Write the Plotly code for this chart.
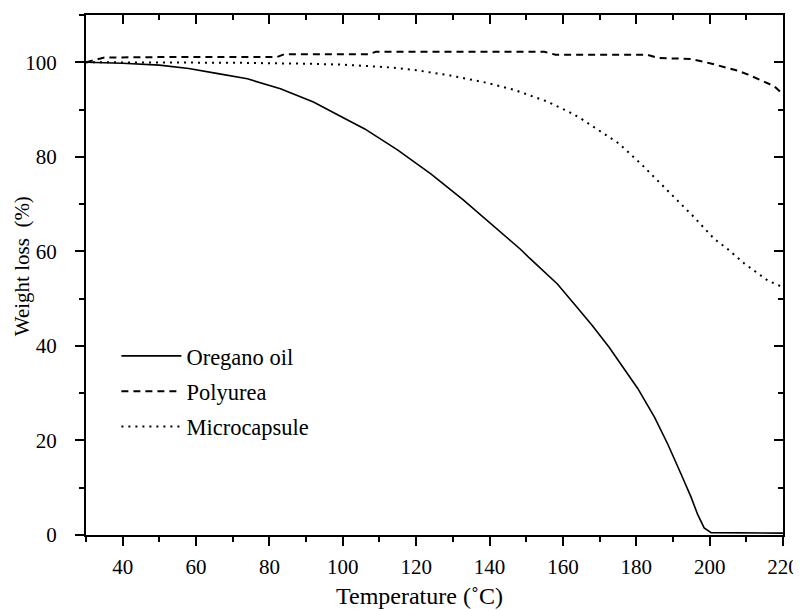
import plotly.graph_objects as go

# Oregano oil (solid)
temp_oil = [30, 40, 50, 58, 66, 74, 83, 92, 100, 106, 115, 124, 133, 142, 148.5, 151,
            158.5, 163.5, 168, 172.6, 176, 180.4, 185, 188.6, 192.2, 195, 196.7, 198.5,
            200.4, 210, 220]
w_oil = [100, 99.8, 99.4, 98.7, 97.6, 96.5, 94.4, 91.6, 88.3, 85.9, 81.4, 76.4, 70.8,
         64.8, 60.4, 58.5, 53.1, 48.5, 44.3, 39.7, 36.0, 31.0, 24.9, 19.2, 12.9, 7.9,
         4.4, 1.5, 0.5, 0.4, 0.4]

# Polyurea (dashed)
temp_pu = [30, 35, 50, 82, 84, 107, 109, 155, 158, 183, 186, 195, 200.6, 204, 207.7,
           210.5, 213.1, 215.5, 217.7, 220]
w_pu = [100.0, 101.0, 101.1, 101.1, 101.7, 101.7, 102.2, 102.2, 101.6, 101.6, 100.9,
        100.7, 99.7, 99.0, 98.2, 97.4, 96.5, 95.8, 94.9, 93.2]

# Microcapsule (dotted)
temp_mc = [30, 50, 70, 90, 100, 106.6, 113, 120.2, 129.3, 138.4, 146.6, 155.7, 161.7,
           164.9, 168.5, 175.3, 181.3, 185.8, 191.3, 195.8, 201.3, 204.9, 209.5, 215.9, 220]
w_mc = [100.0, 100.0, 99.9, 99.7, 99.5, 99.2, 98.9, 98.3, 97.2, 95.8, 94.2, 91.7, 89.5,
        88.1, 86.3, 82.8, 78.5, 75.0, 70.8, 67.2, 62.6, 60.5, 57.4, 53.8, 52.4]

series_names = ["Oregano oil", "Polyurea", "Microcapsule"]
x_ticks = [40, 60, 80, 100, 120, 140, 160, 180, 200, 220]
y_ticks = [0, 20, 40, 60, 80, 100]
x_title = "Temperature (˚C)"
y_title = "Weight loss\u00a0 (%)"

FONT = "Liberation Serif"

fig = go.Figure()
fig.add_trace(go.Scatter(x=temp_oil, y=w_oil, mode="lines", name=series_names[0],
                         legendgroup="a", line=dict(color="black", width=1.6)))
fig.add_trace(go.Scatter(x=temp_pu, y=w_pu, mode="lines", name=series_names[1],
                         legendgroup="b", line=dict(color="black", width=2, dash="7px,5px")))
fig.add_trace(go.Scatter(x=temp_mc, y=w_mc, mode="lines", name=series_names[2],
                         legendgroup="c", line=dict(color="black", width=2, dash="2px,5px")))
# invisible copy so the mirrored top/right axes get drawn
fig.add_trace(go.Scatter(x=temp_oil, y=w_oil, mode="lines", xaxis="x2", yaxis="y2",
                         showlegend=False, hoverinfo="skip", opacity=0,
                         line=dict(color="rgba(0,0,0,0)", width=0)))

axis_common = dict(showgrid=False, zeroline=False, showline=True, linecolor="black",
                   linewidth=2, tickcolor="black", tickwidth=2, ticklen=9,
                   automargin=False)

# page body has an 8px margin: compensate so the plot area sits at x 86..783, y 15..535
fig.update_layout(
    width=793, height=603,
    margin=dict(l=78, r=18, t=7, b=76, autoexpand=False),
    paper_bgcolor="white", plot_bgcolor="white",
    font=dict(family=FONT, size=21, color="black"),
    showlegend=True,
    legend=dict(x=0.0436, y=0.385, xanchor="left", yanchor="top",
                bgcolor="rgba(0,0,0,0)", font=dict(family=FONT, size=22.5),
                itemwidth=60, tracegroupgap=3),
    xaxis=dict(range=[30, 220], tickvals=x_ticks, ticks="outside",
               tickfont=dict(family=FONT, size=21), ticklabelstandoff=3,
               minor=dict(dtick=10, tick0=30, ticks="outside", ticklen=5,
                          tickcolor="black", tickwidth=2),
               **axis_common),
    yaxis=dict(range=[0, 110], tickvals=y_ticks, ticks="outside",
               tickfont=dict(family=FONT, size=21), ticklabelstandoff=14,
               minor=dict(dtick=10, tick0=0, ticks="outside", ticklen=5,
                          tickcolor="black", tickwidth=2),
               **axis_common),
    xaxis2=dict(range=[30, 220], tickvals=x_ticks, ticks="inside", overlaying="x",
                side="top", showticklabels=False,
                minor=dict(dtick=10, tick0=30, ticks="inside", ticklen=5,
                           tickcolor="black", tickwidth=2),
                **axis_common),
    yaxis2=dict(range=[0, 110], tickvals=y_ticks, ticks="inside", overlaying="y",
                side="right", showticklabels=False,
                minor=dict(dtick=10, tick0=0, ticks="inside", ticklen=5,
                           tickcolor="black", tickwidth=2),
                **axis_common),
    annotations=[
        dict(text=x_title, xref="paper", yref="paper", x=0.479, y=-0.117,
             xanchor="center", yanchor="middle", showarrow=False,
             font=dict(family=FONT, size=24)),
        dict(text=y_title, xref="paper", yref="paper", x=-0.0918, y=0.517,
             xanchor="center", yanchor="middle", showarrow=False, textangle=-90,
             font=dict(family=FONT, size=21)),
    ],
)

fig.write_html("out.html")
